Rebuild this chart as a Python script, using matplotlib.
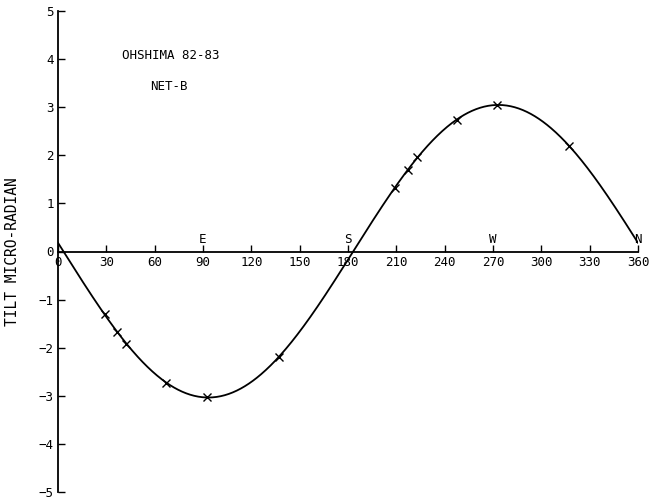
import matplotlib.pyplot as plt
import numpy as np

# Data
azimuth = [28.9, 36.9, 42.2, 67.0, 92.2, 137.2, 209.2, 217.4, 222.7, 247.5, 272.3, 317.4]
tilt = [-1.29, -1.67, -1.93, -2.73, -3.02, -2.19, 1.32, 1.70, 1.97, 2.74, 3.04, 2.19]

x_ticks = [0, 30, 60, 90, 120, 150, 180, 210, 240, 270, 300, 330, 360]
y_ticks = [-5, -4, -3, -2, -1, 0, 1, 2, 3, 4, 5]
directions = ['E', 'S', 'W', 'N']
direction_pos = [90, 180, 270, 360]

# least-squares sinusoid through the measured points
az = np.radians(azimuth)
A = np.column_stack([np.sin(az), np.cos(az), np.ones_like(az)])
coef, *_ = np.linalg.lstsq(A, np.array(tilt), rcond=None)
xs = np.linspace(0, 360, 721)
xr = np.radians(xs)
fit = coef[0] * np.sin(xr) + coef[1] * np.cos(xr) + coef[2]

plt.rcParams['font.family'] = ['DejaVu Sans Mono']

fig = plt.figure(figsize=(6.5, 4.99), dpi=100)
ax = fig.add_axes([58 / 650, 1 - 492 / 499, 580 / 650, 481 / 499])

ax.plot(xs, fit, color='black', linewidth=1.3)
ax.plot(azimuth, tilt, linestyle='none', marker='x', color='black',
        markersize=6, markeredgewidth=1.0)

ax.set_xlim(0, 360)
ax.set_ylim(-5, 5)
ax.spines['right'].set_visible(False)
ax.spines['top'].set_visible(False)
ax.spines['bottom'].set_position(('data', 0))
ax.spines['left'].set_linewidth(1.3)
ax.spines['bottom'].set_linewidth(1.3)

ax.set_xticks(x_ticks)
ax.set_yticks(y_ticks)
ax.tick_params(direction='in', length=5, width=1.0, labelsize=9, pad=3)

for label, xp in zip(directions, direction_pos):
    ax.text(xp, 0.12, label, ha='center', va='bottom', fontsize=9)

ax.text(70, 4.07, 'OHSHIMA 82-83', ha='center', va='center', fontsize=9)
ax.text(69, 3.44, 'NET-B', ha='center', va='center', fontsize=9)

ax.set_ylabel('TILT MICRO-RADIAN', fontsize=10.5, va='center')
ax.yaxis.set_label_coords(-45 / 580, 0.5)

fig.savefig('out.png', dpi=100)
